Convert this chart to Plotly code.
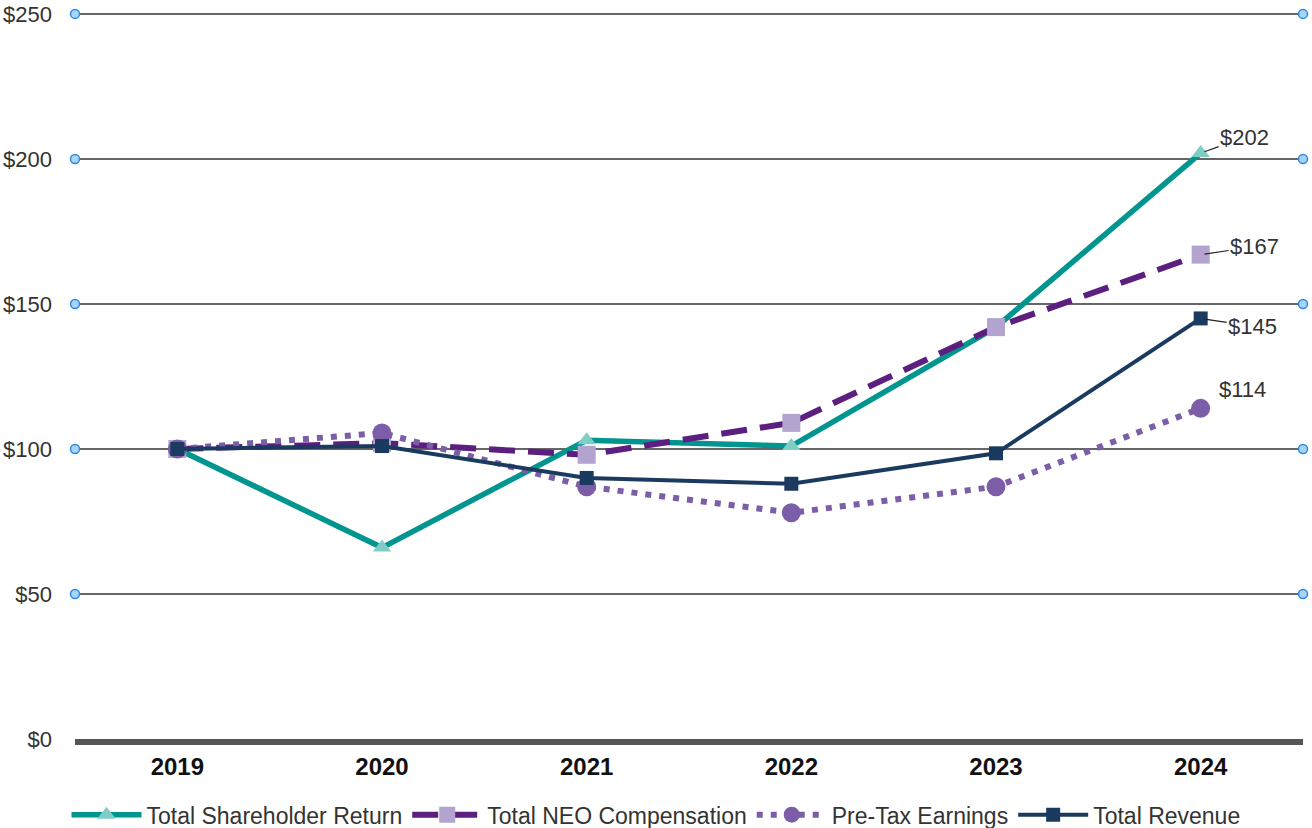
import plotly.graph_objects as go

years = ["2019", "2020", "2021", "2022", "2023", "2024"]
tsr = [100, 66, 103, 101, 142, 202]
neo = [100, 102, 98, 109, 142, 167]
pretax = [100, 105.5, 87, 78, 87, 114]
revenue = [100, 101, 90, 88, 98.5, 145]
y_ticks = [0, 50, 100, 150, 200, 250]
y_tick_labels = ["$0", "$50", "$100", "$150", "$200", "$250"]

FONT = "Liberation Sans, Arial, sans-serif"
xi = list(range(len(years)))
x_lo, x_hi = -0.5, len(years) - 0.5

fig = go.Figure()

fig.add_trace(go.Scatter(
    x=xi, y=tsr, name="Total Shareholder Return", mode="lines+markers",
    line=dict(color="#00968f", width=5.5),
    marker=dict(symbol="triangle-up", size=16, color="#80cdc6"),
))
fig.add_trace(go.Scatter(
    x=xi, y=neo, name="Total NEO Compensation", mode="lines+markers",
    line=dict(color="#5c1f80", width=6, dash="26px,13px"),
    marker=dict(symbol="square", size=18, color="#b3a3cf"),
))
fig.add_trace(go.Scatter(
    x=xi, y=pretax, name="Pre-Tax Earnings", mode="lines+markers",
    line=dict(color="#7b5ea7", width=6, dash="6px,8px"),
    marker=dict(symbol="circle", size=19, color="#7b5ea7"),
))
fig.add_trace(go.Scatter(
    x=xi, y=revenue, name="Total Revenue", mode="lines+markers",
    line=dict(color="#1b3a5f", width=4),
    marker=dict(symbol="square", size=14, color="#1b3a5f"),
))

# grid end circles at the ends of each gridline
gx, gy = [], []
for v in y_ticks[1:]:
    gx += [x_lo, x_hi, None]
    gy += [v, v, None]
fig.add_trace(go.Scatter(
    x=gx, y=gy, mode="markers", showlegend=False, hoverinfo="skip",
    cliponaxis=False,
    marker=dict(symbol="circle", size=9, color="#a8d4f7", line=dict(color="#2f8ae0", width=1.5)),
))

last = xi[-1]
labels = [
    ("$202", tsr[-1], 44, -16),
    ("$167", neo[-1], 54, -8),
    ("$145", revenue[-1], 52, 8),
]
for txt, val, ax, ay in labels:
    fig.add_annotation(x=last, y=val, text=txt, showarrow=True, ax=ax, ay=ay,
                       arrowhead=0, arrowwidth=1.2, arrowcolor="#222", standoff=4,
                       font=dict(family=FONT, size=22, color="#333"))
fig.add_annotation(x=last, y=pretax[-1], text="$114", showarrow=False, xshift=42, yshift=19,
                   font=dict(family=FONT, size=22, color="#333"))

fig.update_layout(
    width=1312, height=828,
    margin=dict(l=75, r=9, t=11, b=89),
    plot_bgcolor="white", paper_bgcolor="white",
    font=dict(family=FONT, size=22, color="#333"),
    showlegend=True,
    legend=dict(orientation="h", xref="container", yref="container", x=0.5, xanchor="center",
                y=0.016, yanchor="middle", font=dict(family=FONT, size=23, color="#333"),
                itemwidth=70, traceorder="normal"),
    xaxis=dict(range=[x_lo, x_hi], tickvals=xi, ticktext=years, showgrid=False,
               zeroline=False, showline=True, linewidth=6, linecolor="#555",
               ticks="", tickfont=dict(family=FONT, size=24, color="#111", weight="bold"),
               ticklabelstandoff=1, automargin=False),
    yaxis=dict(range=[0, 251], tickvals=y_ticks, ticktext=y_tick_labels, showgrid=True,
               gridcolor="#666666", gridwidth=1.5, zeroline=False, showline=False,
               ticks="", tickfont=dict(family=FONT, size=22, color="#333"),
               ticklabelstandoff=22, automargin=False),
)

fig.write_html("out.html", config={"displayModeBar": False},
               post_script="document.body.style.margin='0px';")
